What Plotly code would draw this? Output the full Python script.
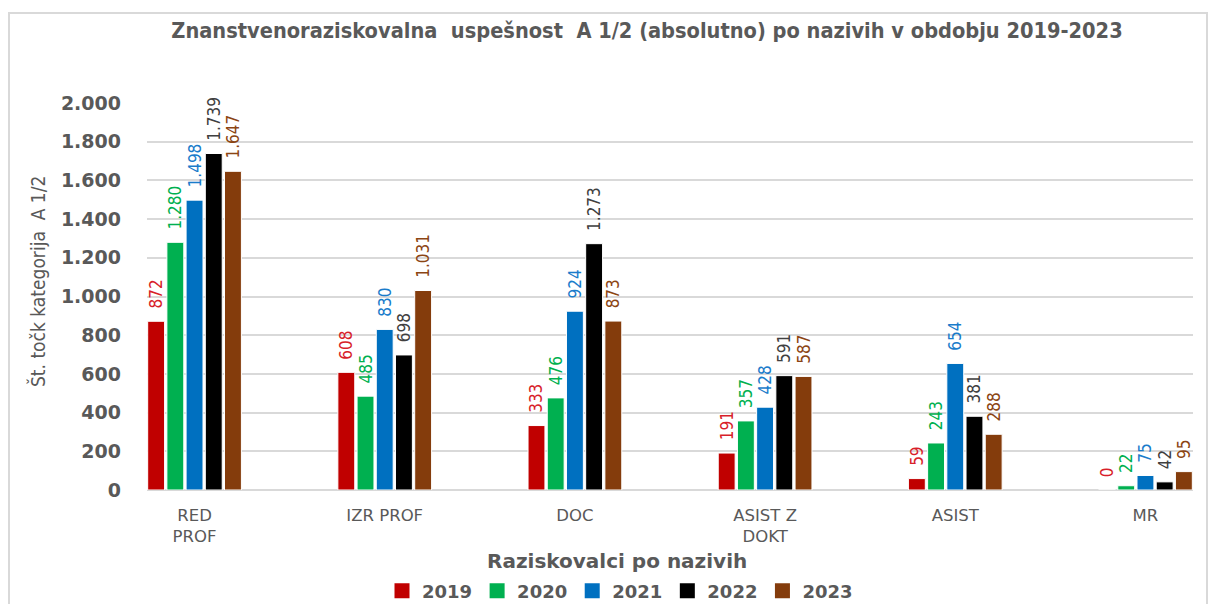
import plotly.graph_objects as go

categories = ["RED<br>PROF", "IZR PROF", "DOC", "ASIST Z<br>DOKT", "ASIST", "MR"]
years = ["2019", "2020", "2021", "2022", "2023"]
v2019 = [872, 608, 333, 191, 59, 0]
v2020 = [1280, 485, 476, 357, 243, 22]
v2021 = [1498, 830, 924, 428, 654, 75]
v2022 = [1739, 698, 1273, 591, 381, 42]
v2023 = [1647, 1031, 873, 587, 288, 95]
series = [v2019, v2020, v2021, v2022, v2023]
y_ticks = [0, 200, 400, 600, 800, 1000, 1200, 1400, 1600, 1800, 2000]

bar_colors = ["#C00000", "#00B050", "#0070C0", "#000000", "#843C0C"]
label_colors = ["#D81E2A", "#00B050", "#1A7CCB", "#404040", "#8B4513"]

COND = "DejaVu Sans Condensed, Liberation Sans Narrow, Roboto, sans-serif"
VERD = "DejaVu Sans, Verdana, sans-serif"
GREY = "#595959"

W, H = 1210, 604
L, R, T, B = 147, 17, 103, 114
pw = W - L - R
ph = H - T - B

fig = go.Figure()
for yr, vals, bc, lc in zip(years, series, bar_colors, label_colors):
    fig.add_trace(go.Bar(
        name=yr, x=list(range(len(categories))), y=vals,
        marker=dict(color=bc, line=dict(color="#ffffff", width=1)),
        text=vals, texttemplate="\u00a0\u00a0%{y:,}", textposition="outside",
        textangle=-90, cliponaxis=False, constraintext="none",
        textfont=dict(family=COND, size=17, color=lc),
        showlegend=False,
    ))
# legend entries (square swatches)
for yr, bc in zip(years, bar_colors):
    fig.add_trace(go.Scatter(
        name=yr, x=[None], y=[None], mode="markers",
        marker=dict(symbol="square", size=15, color=bc),
        showlegend=True, hoverinfo="skip",
    ))

def px_x(p):
    return (p - L) / pw

def px_y(p):
    return (H - B - p) / ph

fig.update_layout(
    width=W, height=H,
    margin=dict(l=L, r=R, t=T, b=B, autoexpand=False),
    paper_bgcolor="white", plot_bgcolor="white",
    separators=",.",
    barmode="group", bargap=0.495, bargroupgap=0.12,
    title=dict(
        text="Znanstvenoraziskovalna  uspešnost  A 1/2 (absolutno) po nazivih v obdobju 2019-2023",
        font=dict(family=COND, size=21.6, color=GREY, weight="bold"),
        x=647 / W, xanchor="center", xref="container",
        y=1 - 30 / H, yanchor="middle", yref="container",
    ),
    xaxis=dict(
        tickmode="array", tickvals=list(range(len(categories))), ticktext=categories,
        range=[-0.25, 5.25], showgrid=False, showline=False, zeroline=False,
        ticks="", tickfont=dict(family=VERD, size=16.5, color=GREY),
        ticklabelstandoff=13, automargin=False,
    ),
    yaxis=dict(
        range=[0, 2000], tickvals=y_ticks, tickformat=",",
        showgrid=True, gridcolor="#D9D9D9", gridwidth=2,
        zeroline=True, zerolinecolor="#D9D9D9", zerolinewidth=2,
        showline=False, ticks="", automargin=False,
        tickfont=dict(family=VERD, size=19, color=GREY, weight="bold"),
        ticklabelstandoff=25,
    ),
    legend=dict(
        orientation="h", x=620 / W, xanchor="center", xref="container",
        y=1 - 591 / H, yanchor="middle", yref="container",
        font=dict(family=VERD, size=18, color=GREY, weight="bold"),
        traceorder="normal", itemwidth=30, bgcolor="rgba(0,0,0,0)",
        itemsizing="trace",
    ),
    showlegend=True,
)

fig.add_annotation(
    text="Št. točk kategorija  A 1/2", xref="paper", yref="paper",
    x=px_x(37), y=px_y(282), xanchor="center", yanchor="middle",
    textangle=-90, showarrow=False,
    font=dict(family=COND, size=19, color=GREY),
)

fig.add_annotation(
    text="Raziskovalci po nazivih", xref="paper", yref="paper",
    x=px_x(617), y=px_y(561), xanchor="center", yanchor="middle",
    showarrow=False, font=dict(family=VERD, size=20, color=GREY, weight="bold"),
)

fig.add_shape(
    type="rect", xref="paper", yref="paper",
    x0=px_x(9), x1=px_x(1207), y0=px_y(640), y1=px_y(13),
    line=dict(color="#D9D9D9", width=2), fillcolor="rgba(0,0,0,0)", layer="below",
)

fig.write_html("out.html", config={"displayModeBar": False},
               post_script="document.body.style.margin='0';")
